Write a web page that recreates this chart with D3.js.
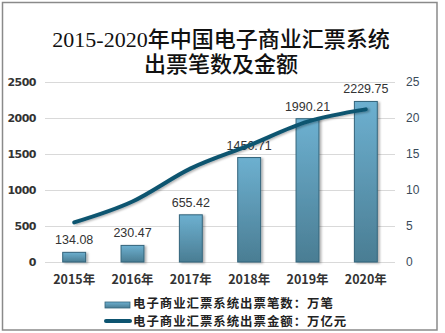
<!DOCTYPE html>
<html><head><meta charset="utf-8">
<script src="https://cdn.jsdelivr.net/npm/d3@7"></script>
<style>body{margin:0;background:#fff}svg{display:block}</style>
</head><body>
<script>
const years = ["2015年","2016年","2017年","2018年","2019年","2020年"];
const counts = [134.08, 230.47, 655.42, 1450.71, 1990.21, 2229.75];
const amounts = [5.5, 8.4, 13.0, 16.2, 19.5, 21.2];
const leftTicks = [0, 500, 1000, 1500, 2000, 2500];
const rightTicks = [0, 5, 10, 15, 20, 25];
const titleLines = ["2015-2020年中国电子商业汇票系统", "出票笔数及金额"];
const legendNames = ["电子商业汇票系统出票笔数：万笔", "电子商业汇票系统出票金额：万亿元"];

const W = 445, H = 333;
const svg = d3.select("body").append("svg").attr("width", W).attr("height", H);
const defs = svg.append("defs");
const g1 = defs.append("linearGradient").attr("id","barg").attr("x1",0).attr("y1",0).attr("x2",0).attr("y2",1);
g1.append("stop").attr("offset","0%").attr("stop-color","#6db0d0");
g1.append("stop").attr("offset","100%").attr("stop-color","#4a7d93");
const f = defs.append("filter").attr("id","sh").attr("x","-20%").attr("y","-20%").attr("width","160%").attr("height","160%");
f.append("feDropShadow").attr("dx",2).attr("dy",1).attr("stdDeviation",1.2).attr("flood-color","#000").attr("flood-opacity",0.3);

svg.append("rect").attr("x",2.5).attr("y",2.5).attr("width",434.5).attr("height",327.5)
  .attr("fill","#fff").attr("stroke","#8a8a8a").attr("stroke-width",1.5);

const tfont = "'Liberation Serif','Noto Sans CJK SC',serif";
svg.append("g").selectAll("text").data(titleLines).join("text")
  .attr("x", 221).attr("y", (d,i)=> 47 + i*25)
  .attr("text-anchor","middle").attr("font-family", tfont)
  .attr("font-size", 22).attr("font-weight", 500).attr("fill","#111").text(d=>d);

const x = d3.scaleBand().domain(years).range([45, 395]).paddingInner(0.59).paddingOuter(0.295);
const yL = d3.scaleLinear().domain([0, 2500]).range([262, 82]);
const yR = d3.scaleLinear().domain([0, 25]).range([262, 82]);

svg.append("g").selectAll("line").data(leftTicks).join("line")
  .attr("x1",45).attr("x2",395).attr("y1",d=>yL(d)+0.5).attr("y2",d=>yL(d)+0.5)
  .attr("stroke","#d9d9d9").attr("stroke-width",1);

const sans = "'Noto Sans CJK SC','Noto Sans',sans-serif";
const la = svg.append("g").attr("transform","translate(45,0)")
  .call(d3.axisLeft(yL).tickValues(leftTicks).tickFormat(d3.format("d")).tickSize(0).tickPadding(9));
la.select(".domain").remove();
la.selectAll("text").attr("font-family","'DejaVu Sans',sans-serif").attr("font-size",11)
  .attr("font-weight","bold").attr("fill","#333").attr("letter-spacing","-0.5");

const ra = svg.append("g").attr("transform","translate(395,0)")
  .call(d3.axisRight(yR).tickValues(rightTicks).tickSize(0).tickPadding(11));
ra.select(".domain").remove();
ra.selectAll("text").attr("font-family","'Liberation Sans',sans-serif").attr("font-size",12)
  .attr("fill","#3a4a5a");

const xa = svg.append("g").attr("transform","translate(0,262)")
  .call(d3.axisBottom(x).tickSize(0).tickPadding(13));
xa.select(".domain").remove();
xa.selectAll("text").attr("font-family",sans).attr("font-size",12.5)
  .attr("font-weight","bold").attr("fill","#333");

svg.append("g").selectAll("rect").data(counts).join("rect")
  .attr("x",(d,i)=>x(years[i])+0.5).attr("y",d=>yL(d))
  .attr("width",x.bandwidth()-1).attr("height",d=>yL(0)-yL(d))
  .attr("fill","url(#barg)").attr("stroke","#33647b").attr("stroke-width",1).attr("filter","url(#sh)");

svg.append("g").selectAll("text").data(counts).join("text")
  .attr("x",(d,i)=>x(years[i])+x.bandwidth()/2).attr("y",d=>yL(d)-8)
  .attr("text-anchor","middle").attr("font-family","'Liberation Sans',sans-serif")
  .attr("font-size",12.5).attr("fill","#333").text(d=>d.toFixed(2));

const line = d3.line().x((d,i)=>x(years[i])+x.bandwidth()/2).y(d=>yR(d)).curve(d3.curveMonotoneX);
svg.append("path").datum(amounts).attr("d",line).attr("fill","none")
  .attr("stroke","#0d5470").attr("stroke-width",4).attr("stroke-linecap","round")
  .attr("filter","url(#sh)");

const lg = svg.append("g");
lg.append("rect").attr("x",105).attr("y",302).attr("width",25).attr("height",6)
  .attr("fill","url(#barg)").attr("stroke","#33647b").attr("stroke-width",0.8);
lg.append("line").attr("x1",106).attr("x2",130).attr("y1",321).attr("y2",321)
  .attr("stroke","#0d5470").attr("stroke-width",4).attr("stroke-linecap","round");
lg.selectAll("text").data(legendNames).join("text")
  .attr("x",133).attr("y",(d,i)=>304+i*18).attr("dy","0.35em")
  .attr("font-family",sans).attr("font-size",12.4).attr("letter-spacing",1)
  .attr("font-weight","bold").attr("fill","#222").text(d=>d);
</script>
</body></html>
